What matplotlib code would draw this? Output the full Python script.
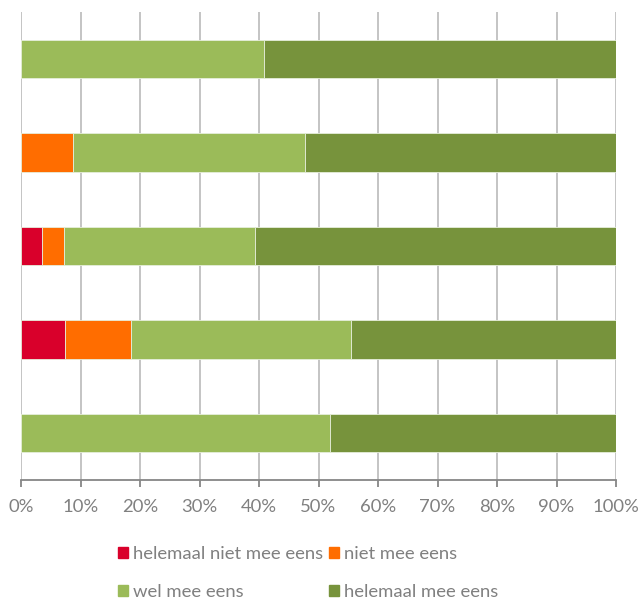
import numpy as np
from matplotlib import pyplot as plt
from matplotlib.patches import Patch

# bars top to bottom, percentages
categories = ['Q1', 'Q2', 'Q3', 'Q4', 'Q5']
helemaal_niet = [0.0, 0.0, 3.6, 7.4, 0.0]
niet = [0.0, 8.7, 3.6, 11.1, 0.0]
wel = [40.9, 39.1, 32.1, 37.0, 51.9]
helemaal = [59.1, 52.2, 60.7, 44.5, 48.1]

series_names = ['helemaal niet mee eens', 'niet mee eens', 'wel mee eens', 'helemaal mee eens']
series_colors = ['#d9002b', '#ff6d00', '#9bbb59', '#77933c']
xticks = [0, 10, 20, 30, 40, 50, 60, 70, 80, 90, 100]

plt.rcParams['font.family'] = ['Lato', 'DejaVu Sans']
plt.rcParams['font.size'] = 13.3

fig = plt.figure(figsize=(6.42, 5.99), dpi=100)
ax = fig.add_axes([21/642, 1 - 480/599, 595/642, 468/599])

y = np.arange(len(categories))[::-1]
left = np.zeros(len(categories))
for vals, name, col in zip([helemaal_niet, niet, wel, helemaal], series_names, series_colors):
    vals = np.array(vals)
    ax.barh(y, vals, left=left, height=0.41, color=col, edgecolor='#e6eedb',
            linewidth=0.6, label=name, zorder=3)
    left += vals

ax.set_xlim(0, 100)
ax.set_ylim(-0.5, len(categories) - 0.5)
ax.set_xticks(xticks)
ax.set_xticklabels(['{}%'.format(t) for t in xticks], color='#808080')
ax.set_yticks([])
ax.grid(axis='x', color='#bfbfbf', linewidth=1.3, zorder=0)
for s in ['top', 'right', 'left']:
    ax.spines[s].set_visible(False)
ax.spines['bottom'].set_color('#868686')
ax.spines['bottom'].set_linewidth(1.3)
ax.tick_params(axis='x', length=5, width=1.3, color='#868686', pad=9, labelsize=13.3)

handles = [Patch(color=c) for c in series_colors]
order = [0, 2, 1, 3]
fig.legend([handles[i] for i in order], [series_names[i] for i in order],
           loc='upper left', bbox_to_anchor=(118/642, 1 - 546/599), ncol=2,
           frameon=False, fontsize=13.3, labelcolor='#808080',
           handlelength=0.54, handleheight=0.54, handletextpad=0.27,
           columnspacing=0.32, labelspacing=1.2, borderpad=0, borderaxespad=0)

fig.savefig('out.png', dpi=100)
